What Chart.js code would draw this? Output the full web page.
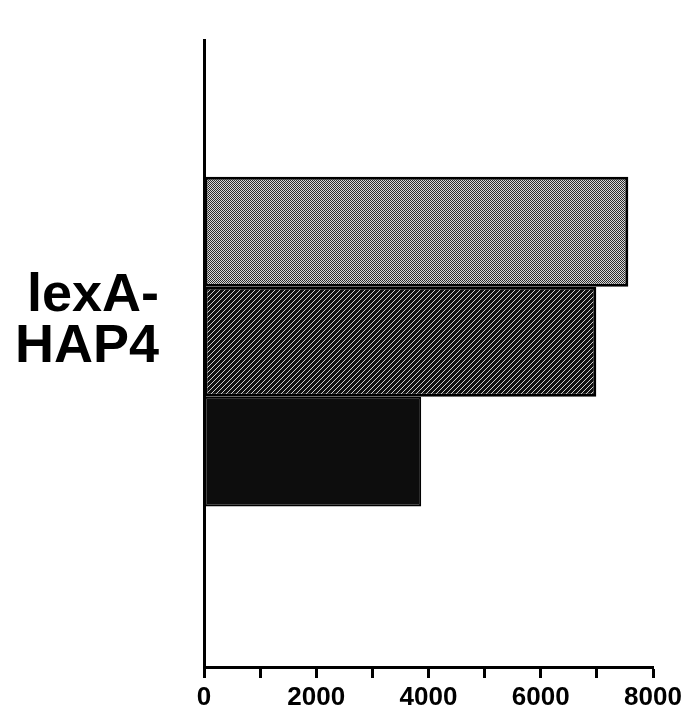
<!DOCTYPE html>
<html>
<head>
<meta charset="utf-8">
<script src="https://cdn.jsdelivr.net/npm/chart.js@4.4.1/dist/chart.umd.min.js"></script>
<style>
  html, body { margin: 0; padding: 0; background: #fff; }
  #wrap { width: 688px; height: 717px; }
</style>
</head>
<body>
<div id="wrap"><canvas id="chart"></canvas></div>
<script>
// data
const categories = ['lexA-HAP4'];
const stippled = [7560];
const hatched = [6990];
const solid = [3870];
const xTicks = [0, 2000, 4000, 6000, 8000];

// small fill patterns to mimic the printed shadings
const makePattern = (size, draw) => {
    const c = document.createElement('canvas');
    c.width = size;
    c.height = size;
    const g = c.getContext('2d');
    draw(g, size);
    return g.createPattern(c, 'repeat');
}

const stipplePattern = makePattern(4, (g, s) => {
    g.fillStyle = '#d8d8d8';
    g.fillRect(0, 0, s, s);
    g.fillStyle = '#2a2a2a';
    for (let y = 0; y < s; y++) {
        for (let x = 0; x < s; x++) {
            if ((x + y) % 2 === 0) g.fillRect(x, y, 1, 1);
        }
    }
});

const hatchPattern = makePattern(5, (g, s) => {
    g.fillStyle = '#111';
    g.fillRect(0, 0, s, s);
    g.fillStyle = '#d0d0d0';
    for (let i = 0; i < s; i++) g.fillRect(i, s - 1 - i, 1, 1);
});

const toPoints = (arr) => arr.map((v, i) => ({ x: v, y: i }));

const ctx = document.getElementById('chart');
new Chart(ctx, {
    type: 'bar',
    data: {
        datasets: [
            { data: toPoints(stippled), backgroundColor: stipplePattern, borderColor: '#000', borderWidth: 3, borderSkipped: false },
            { data: toPoints(hatched), backgroundColor: hatchPattern, borderColor: '#000', borderWidth: 3, borderSkipped: false },
            { data: toPoints(solid), backgroundColor: '#0d0d0d', borderColor: '#000', borderWidth: 2, borderSkipped: false }
        ]
    },
    options: {
        indexAxis: 'y',
        responsive: true,
        maintainAspectRatio: false,
        animation: false,
        layout: { padding: { top: 40, right: 35, left: 0, bottom: 0 } },
        datasets: { bar: { categoryPercentage: 0.526, barPercentage: 1 } },
        plugins: { legend: { display: false }, tooltip: { enabled: false } },
        scales: {
            x: {
                type: 'linear',
                min: 0,
                max: 8000,
                afterFit: (scale) => { scale.height = 50; },
                ticks: {
                    stepSize: 1000,
                    autoSkip: false,
                    maxRotation: 0,
                    padding: 4,
                    color: '#000',
                    font: { family: 'Liberation Sans', size: 26, weight: 'bold' },
                    callback: (v) => xTicks.includes(v) ? String(v) : ''
                },
                grid: { drawOnChartArea: false, tickLength: 11, tickWidth: 3, tickColor: '#000' },
                border: { color: '#000', width: 3 }
            },
            y: {
                type: 'linear',
                min: -0.5,
                max: 0.43,
                afterBuildTicks: (scale) => { scale.ticks = categories.map((c, i) => ({ value: i })); },
                afterFit: (scale) => {
                    scale.width = 204;
                    scale.paddingTop = 0;
                    scale.paddingBottom = 0;
                },
                ticks: {
                    padding: 45,
                    labelOffset: -20,
                    color: '#000',
                    font: { family: 'Liberation Sans', size: 54, weight: 'bold', lineHeight: 0.95 },
                    callback: (v) => categories[v] ? categories[v].replace('-', '-\n').split('\n') : ''
                },
                grid: { drawOnChartArea: false, drawTicks: false },
                border: { color: '#000', width: 3 }
            }
        }
    }
});
</script>
</body>
</html>
